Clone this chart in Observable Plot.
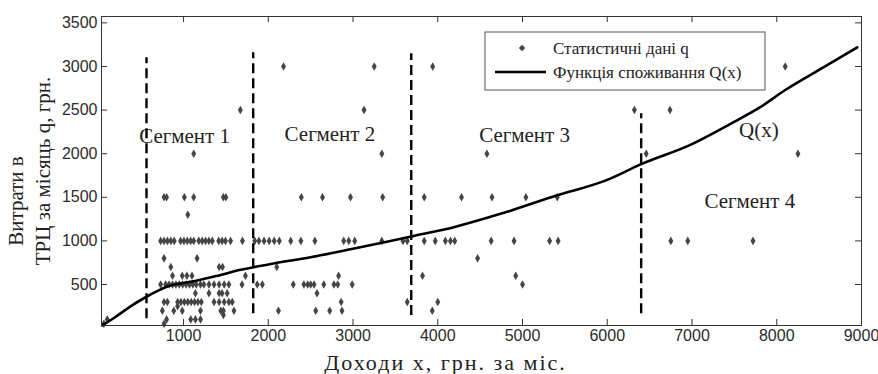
<!DOCTYPE html>
<html>
<head>
<meta charset="utf-8">
<script src="https://cdn.jsdelivr.net/npm/d3@7"></script>
<script src="https://cdn.jsdelivr.net/npm/@observablehq/plot@0.6"></script>
<style>
  html, body { margin: 0; padding: 0; background: #fff; }
  #chart { width: 878px; height: 374px; }
</style>
</head>
<body>
<div id="chart"></div>
<script>
// ---- data ----
const xTicks = [1000, 2000, 3000, 4000, 5000, 6000, 7000, 8000, 9000];
const yTicks = [500, 1000, 1500, 2000, 2500, 3000, 3500];

// spending levels q and the incomes x observed at each level
const spendLevels = [3000, 2500, 2000, 1500, 1300, 1000, 800, 700, 600, 500, 400, 300, 250, 200, 150, 100, 50];
const incomeAtLevel = [
  [2180, 3250, 3940, 8100],
  [1670, 3130, 6320, 6740],
  [1120, 3340, 4580, 6460, 8250],
  [770, 800, 1010, 1120, 1470, 1500, 2390, 2640, 2970, 3350, 3840, 4280, 4640, 5040, 5410],
  [1050],
  [730, 770, 810, 850, 890, 965, 1005, 1045, 1085, 1120, 1180, 1220, 1260, 1300, 1340, 1415, 1455, 1495, 1555, 1695,
   1840, 1890, 1950, 2010, 2070, 2130, 2265, 2385, 2550, 2890, 2950, 3020, 3340, 3590, 3640, 3840, 3970, 4090, 4150,
   4200, 4630, 4900, 5320, 5420, 6750, 6950, 7720],
  [770, 1160, 4470],
  [850, 1420, 1460, 2100],
  [870, 985, 1040, 1100, 1730, 2830, 3820, 4920],
  [730, 790, 830, 870, 910, 950, 990, 1030, 1070, 1110, 1150, 1200, 1240, 1300, 1360, 1420, 1480, 1535, 1690, 1870,
   1930, 2295, 2420, 2465, 2500, 2540, 2655, 2775, 2820, 2990, 5000],
  [1140, 1300, 1420, 1455, 1515, 2575],
  [770, 810, 930, 970, 1010, 1050, 1090, 1130, 1170, 1210, 1360, 1420, 1480, 1535, 1575, 2860, 3640, 4000],
  [930],
  [750, 885, 985, 1200, 1440, 1470, 1595, 2120, 2560, 2725, 2870, 3935],
  [1470],
  [100, 800, 1085, 1140, 1200],
  [60, 770]
];

// consumption function Q(x)
const curveX = [40, 200, 375, 552, 700, 800, 950, 1162, 1400, 1673, 2000, 2500, 3000, 3400, 3687, 4200, 4740, 5400, 6000, 6400, 7000, 7450, 7800, 8100, 8550, 8950];
const curveQ = [30, 130, 250, 354, 430, 475, 510, 546, 600, 668, 730, 813, 910, 990, 1050, 1160, 1310, 1520, 1700, 1880, 2110, 2340, 2530, 2730, 2990, 3220];

// segment boundaries (dashed lines)
const segmentX = [563, 1822, 3687, 6400];
const segmentTop = [3100, 3157, 3145, 2457];
const segmentBottom = [107, 164, 144, 165];

// in-plot labels
const labelText = ["Сегмент 1", "Сегмент 2", "Сегмент 3", "Сегмент 4", "Q(x)"];
const labelX = [1012, 2727, 5024, 7682, 7789];
const labelQ = [2197, 2228, 2209, 1455, 2266];

const legendText = ["Статистичні дані q", "Функція споживання Q(x)"];
const xLabel = "Доходи x, грн. за міс.";
const yLabelLines = ["Витрати в", "ТРЦ за місяць q, грн."];

// ---- tables built from the arrays ----
const points = spendLevels.flatMap((q, i) => incomeAtLevel[i].map(x => ({x, q})));
const curve = curveX.map((x, i) => ({x, q: curveQ[i]}));
const segments = segmentX.map((x, i) => ({x, top: segmentTop[i], bottom: segmentBottom[i]}));
const labels = labelText.map((t, i) => ({t, x: labelX[i], q: labelQ[i]}));

const W = 878, H = 374;
const mL = 101, mR = 17, mT = 16, mB = 49;
const fw = W - mL - mR, fh = H - mT - mB;
const serif = "'Liberation Serif', 'Times New Roman', serif";
const tickLen = 6;
const ink = "#222";

const chart = Plot.plot({
  width: W, height: H,
  marginLeft: mL, marginRight: mR, marginTop: mT, marginBottom: mB,
  x: {domain: [32, 9000]},
  y: {domain: [30, 3573]},
  style: {fontFamily: "'Liberation Sans', Arial, sans-serif", fontSize: "16px", color: "#2b2b2b", background: "white"},
  marks: [
    Plot.dot(points, {x: "x", y: "q", symbol: "diamond", r: 2.6, fill: "#454545", stroke: "none"}),
    Plot.line(curve, {x: "x", y: "q", stroke: "black", strokeWidth: 2.6, curve: "monotone-x"}),
    Plot.ruleX(segments, {x: "x", y1: "bottom", y2: "top", stroke: "black", strokeWidth: 2.4, strokeDasharray: "10,5"}),
    Plot.text(labels, {x: "x", y: "q", text: "t", fontFamily: serif, fontSize: 21, fill: ink}),
    Plot.frame({stroke: "#333", strokeWidth: 1}),
    Plot.tickX(xTicks, {x: d => d, insetTop: fh - tickLen, stroke: "#333"}),
    Plot.tickX(xTicks, {x: d => d, insetBottom: fh - tickLen, stroke: "#333"}),
    Plot.tickY(yTicks, {y: d => d, insetRight: fw - tickLen, stroke: "#333"}),
    Plot.tickY(yTicks, {y: d => d, insetLeft: fw - tickLen, stroke: "#333"}),
    Plot.axisX(xTicks, {tickSize: 0, tickPadding: 4, label: null, tickFormat: d => String(d)}),
    Plot.axisY(yTicks, {tickSize: 0, tickPadding: 4, label: null, tickFormat: d => String(d)}),
    Plot.text([xLabel], {frameAnchor: "bottom", textAnchor: "middle", lineAnchor: "middle", dy: 37, dx: -36,
      fontFamily: serif, fontSize: 22, fill: ink}),
    Plot.text([yLabelLines[0]], {frameAnchor: "left", textAnchor: "middle", lineAnchor: "middle", rotate: -90, dx: -85, dy: 30,
      fontFamily: serif, fontSize: 21, fill: ink}),
    Plot.text([yLabelLines[1]], {frameAnchor: "left", textAnchor: "middle", lineAnchor: "middle", rotate: -90, dx: -58, dy: 0,
      fontFamily: serif, fontSize: 21, fill: ink})
  ]
});
document.getElementById("chart").appendChild(chart);

const svg = d3.select(chart);
// the reference's x-axis title is set wide
svg.selectAll("text").filter(function () { return this.textContent === xLabel; })
  .style("letter-spacing", "2px");

// ---- legend box (inside the plot area, near the top) ----
const lx = 485, ly = 32, lw = 280, lh = 58;
const lg = svg.append("g").attr("text-anchor", "start");
lg.append("rect").attr("x", lx).attr("y", ly).attr("width", lw).attr("height", lh)
  .attr("fill", "white").attr("stroke", "#555").attr("stroke-width", 1);
lg.append("path").attr("d", d3.symbol(d3.symbolDiamond2, 26)())
  .attr("transform", `translate(${lx + 37},${ly + 16})`).attr("fill", "#454545");
lg.append("line").attr("x1", lx + 10).attr("x2", lx + 61).attr("y1", ly + 40).attr("y2", ly + 40)
  .attr("stroke", "black").attr("stroke-width", 2.6);
legendText.forEach((t, i) => {
  lg.append("text").attr("x", lx + 68).attr("y", ly + 16 + i * 24).attr("dy", "0.35em")
    .attr("text-anchor", "start")
    .attr("font-family", serif).attr("font-size", 17).attr("fill", ink).text(t);
});
</script>
</body>
</html>
